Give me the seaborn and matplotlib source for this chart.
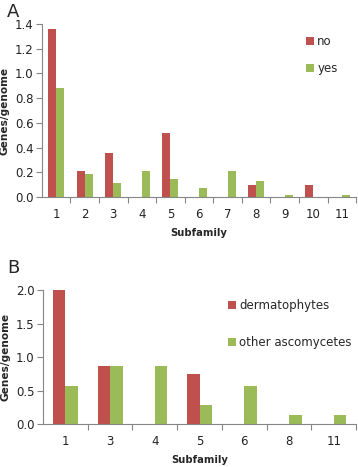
import matplotlib
matplotlib.use("Agg")
import pandas as pd
import seaborn as sns
import matplotlib.pyplot as plt
from matplotlib.ticker import FixedLocator

sub_a = ['1', '2', '3', '4', '5', '6', '7', '8', '9', '10', '11']
no_a = [1.36, 0.21, 0.36, 0.0, 0.52, 0.0, 0.0, 0.10, 0.0, 0.10, 0.0]
yes_a = [0.88, 0.19, 0.11, 0.21, 0.15, 0.07, 0.21, 0.13, 0.015, 0.0, 0.015]
hue_a = ['no', 'yes']

sub_b = ['1', '3', '4', '5', '6', '8', '11']
derm_b = [2.0, 0.87, 0.0, 0.75, 0.0, 0.0, 0.0]
other_b = [0.57, 0.86, 0.86, 0.29, 0.57, 0.14, 0.14]
hue_b = ['dermatophytes', 'other ascomycetes']

red = '#C0504D'
green = '#9BBB59'
grey = '#868686'

def make_df(cats, series, names):
    data = {'value': [], 'sub': [], 'src': []}
    for s, n in zip(series, names):
        for c, v in zip(cats, s):
            data['value'].append(v)
            data['sub'].append(c)
            data['src'].append(n)
    return pd.DataFrame(data)

sns.set_style('white')
plt.rcParams['font.family'] = ['DejaVu Sans']

fig = plt.figure(figsize=(3.58, 4.67), dpi=100)
ax1 = fig.add_axes([0.117, 0.578, 0.878, 0.371])
ax2 = fig.add_axes([0.120, 0.092, 0.875, 0.287])

def style(ax, cats, ylim, yticks, fmt):
    ax.set_ylim(*ylim)
    ax.set_xlim(-0.5, len(cats) - 0.5)
    ax.set_yticks(yticks)
    ax.set_yticklabels([fmt % t for t in yticks])
    ax.xaxis.set_minor_locator(FixedLocator([i + 0.5 for i in range(len(cats) - 1)] + [len(cats) - 0.5]))
    ax.tick_params(axis='x', which='major', length=0, labelsize=8.5, pad=8, colors='#222222')
    ax.tick_params(axis='x', which='minor', length=4, color=grey, width=0.8, direction='out', bottom=True)
    ax.tick_params(axis='y', length=4, color=grey, width=0.8, direction='out', left=True, labelsize=8.5,
                   pad=2, colors='#222222')
    for s in ['top', 'right']:
        ax.spines[s].set_visible(False)
    for s in ['left', 'bottom']:
        ax.spines[s].set_color(grey)
        ax.spines[s].set_linewidth(0.8)
    ax.set_xlabel('Subfamily', fontsize=7.2, fontweight='bold', labelpad=5)
    ax.set_ylabel('Genes/genome', fontsize=7.6, fontweight='bold', labelpad=4)

df_a = make_df(sub_a, [no_a, yes_a], hue_a)
sns.barplot(data=df_a, x='sub', y='value', hue='src', order=sub_a, hue_order=hue_a,
            palette=[red, green], width=0.56, linewidth=0, saturation=1, ax=ax1)
style(ax1, sub_a, (0, 1.4), [0.0, 0.2, 0.4, 0.6, 0.8, 1.0, 1.2, 1.4], '%.1f')
ax1.legend(loc='upper right', bbox_to_anchor=(0.975, 0.995), frameon=False, fontsize=8.5,
           handlelength=0.7, handleheight=0.7, handletextpad=0.3, labelspacing=1.2)

df_b = make_df(sub_b, [derm_b, other_b], hue_b)
sns.barplot(data=df_b, x='sub', y='value', hue='src', order=sub_b, hue_order=hue_b,
            palette=[red, green], width=0.56, linewidth=0, saturation=1, ax=ax2)
style(ax2, sub_b, (0, 2.0), [0.0, 0.5, 1.0, 1.5, 2.0], '%.1f')
ax2.legend(loc='upper right', bbox_to_anchor=(1.02, 1.01), frameon=False, fontsize=8.5,
           handlelength=0.7, handleheight=0.7, handletextpad=0.3, labelspacing=2.05)

fig.text(0.02, 0.974, 'A', fontsize=13, va='center', ha='left')
fig.text(0.02, 0.426, 'B', fontsize=13, va='center', ha='left')

plt.savefig('out.png', dpi=100)
